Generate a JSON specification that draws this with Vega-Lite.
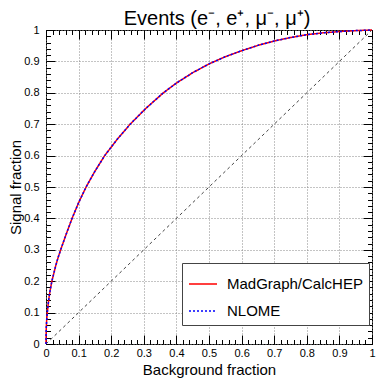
{
  "$schema": "https://vega.github.io/schema/vega-lite/v6.json",
  "autosize": "none",
  "width": 326,
  "height": 314,
  "padding": {"left": 46, "top": 30, "right": 10, "bottom": 38},
  "background": "white",
  "title": {"text": "Events (e⁻, e⁺, μ⁻, μ⁺)", "fontSize": 20, "fontWeight": "normal", "font": "Liberation Sans", "color": "black", "anchor": "middle", "offset": -5, "dx": 8},
  "config": {
    "font": "Liberation Sans",
    "view": {"stroke": "black", "strokeWidth": 1},
    "axis": {"labelColor": "black", "titleColor": "black", "tickColor": "black", "labelFontSize": 11, "titleFontSize": 15, "titleFontWeight": "normal", "domain": false, "labelFont": "Liberation Sans", "titleFont": "Liberation Sans"}
  },
  "datasets": {
    "diag": [{"bg": 0, "sig": 0}, {"bg": 1, "sig": 1}],
    "roc": [
      {"series": "MadGraph/CalcHEP", "bg": 0, "sig": 0},
      {"series": "MadGraph/CalcHEP", "bg": 0.0002, "sig": 0.02},
      {"series": "MadGraph/CalcHEP", "bg": 0.0008, "sig": 0.05},
      {"series": "MadGraph/CalcHEP", "bg": 0.002, "sig": 0.075},
      {"series": "MadGraph/CalcHEP", "bg": 0.004, "sig": 0.1},
      {"series": "MadGraph/CalcHEP", "bg": 0.0065, "sig": 0.125},
      {"series": "MadGraph/CalcHEP", "bg": 0.0095, "sig": 0.15},
      {"series": "MadGraph/CalcHEP", "bg": 0.0135, "sig": 0.175},
      {"series": "MadGraph/CalcHEP", "bg": 0.018, "sig": 0.2},
      {"series": "MadGraph/CalcHEP", "bg": 0.024, "sig": 0.225},
      {"series": "MadGraph/CalcHEP", "bg": 0.03, "sig": 0.25},
      {"series": "MadGraph/CalcHEP", "bg": 0.037, "sig": 0.275},
      {"series": "MadGraph/CalcHEP", "bg": 0.045, "sig": 0.3},
      {"series": "MadGraph/CalcHEP", "bg": 0.062, "sig": 0.35},
      {"series": "MadGraph/CalcHEP", "bg": 0.08, "sig": 0.4},
      {"series": "MadGraph/CalcHEP", "bg": 0.1, "sig": 0.45},
      {"series": "MadGraph/CalcHEP", "bg": 0.123, "sig": 0.5},
      {"series": "MadGraph/CalcHEP", "bg": 0.15, "sig": 0.55},
      {"series": "MadGraph/CalcHEP", "bg": 0.18, "sig": 0.6},
      {"series": "MadGraph/CalcHEP", "bg": 0.217, "sig": 0.65},
      {"series": "MadGraph/CalcHEP", "bg": 0.258, "sig": 0.7},
      {"series": "MadGraph/CalcHEP", "bg": 0.306, "sig": 0.75},
      {"series": "MadGraph/CalcHEP", "bg": 0.36, "sig": 0.8},
      {"series": "MadGraph/CalcHEP", "bg": 0.4, "sig": 0.831},
      {"series": "MadGraph/CalcHEP", "bg": 0.45, "sig": 0.864},
      {"series": "MadGraph/CalcHEP", "bg": 0.5, "sig": 0.892},
      {"series": "MadGraph/CalcHEP", "bg": 0.55, "sig": 0.915},
      {"series": "MadGraph/CalcHEP", "bg": 0.6, "sig": 0.934},
      {"series": "MadGraph/CalcHEP", "bg": 0.65, "sig": 0.951},
      {"series": "MadGraph/CalcHEP", "bg": 0.7, "sig": 0.965},
      {"series": "MadGraph/CalcHEP", "bg": 0.75, "sig": 0.976},
      {"series": "MadGraph/CalcHEP", "bg": 0.8, "sig": 0.985},
      {"series": "MadGraph/CalcHEP", "bg": 0.85, "sig": 0.991},
      {"series": "MadGraph/CalcHEP", "bg": 0.9, "sig": 0.995},
      {"series": "MadGraph/CalcHEP", "bg": 0.95, "sig": 0.998},
      {"series": "MadGraph/CalcHEP", "bg": 1, "sig": 1},
      {"series": "NLOME", "bg": 0, "sig": 0},
      {"series": "NLOME", "bg": 0.0002, "sig": 0.02},
      {"series": "NLOME", "bg": 0.0008, "sig": 0.05},
      {"series": "NLOME", "bg": 0.002, "sig": 0.075},
      {"series": "NLOME", "bg": 0.004, "sig": 0.1},
      {"series": "NLOME", "bg": 0.0065, "sig": 0.125},
      {"series": "NLOME", "bg": 0.0095, "sig": 0.15},
      {"series": "NLOME", "bg": 0.0135, "sig": 0.175},
      {"series": "NLOME", "bg": 0.018, "sig": 0.2},
      {"series": "NLOME", "bg": 0.024, "sig": 0.225},
      {"series": "NLOME", "bg": 0.03, "sig": 0.25},
      {"series": "NLOME", "bg": 0.037, "sig": 0.275},
      {"series": "NLOME", "bg": 0.045, "sig": 0.3},
      {"series": "NLOME", "bg": 0.062, "sig": 0.35},
      {"series": "NLOME", "bg": 0.08, "sig": 0.4},
      {"series": "NLOME", "bg": 0.1, "sig": 0.45},
      {"series": "NLOME", "bg": 0.123, "sig": 0.5},
      {"series": "NLOME", "bg": 0.15, "sig": 0.55},
      {"series": "NLOME", "bg": 0.18, "sig": 0.6},
      {"series": "NLOME", "bg": 0.217, "sig": 0.65},
      {"series": "NLOME", "bg": 0.258, "sig": 0.7},
      {"series": "NLOME", "bg": 0.306, "sig": 0.75},
      {"series": "NLOME", "bg": 0.36, "sig": 0.8},
      {"series": "NLOME", "bg": 0.4, "sig": 0.831},
      {"series": "NLOME", "bg": 0.45, "sig": 0.864},
      {"series": "NLOME", "bg": 0.5, "sig": 0.892},
      {"series": "NLOME", "bg": 0.55, "sig": 0.915},
      {"series": "NLOME", "bg": 0.6, "sig": 0.934},
      {"series": "NLOME", "bg": 0.65, "sig": 0.951},
      {"series": "NLOME", "bg": 0.7, "sig": 0.965},
      {"series": "NLOME", "bg": 0.75, "sig": 0.976},
      {"series": "NLOME", "bg": 0.8, "sig": 0.985},
      {"series": "NLOME", "bg": 0.85, "sig": 0.991},
      {"series": "NLOME", "bg": 0.9, "sig": 0.995},
      {"series": "NLOME", "bg": 0.95, "sig": 0.998},
      {"series": "NLOME", "bg": 1, "sig": 1}
    ]
  },
  "resolve": {"axis": {"x": "independent", "y": "independent"}},
  "layer": [
    {
      "data": {"name": "diag"},
      "mark": {"type": "line", "color": "#444", "strokeDash": [3, 3], "strokeWidth": 1},
      "encoding": {
        "x": {"field": "bg", "type": "quantitative", "scale": {"domain": [0, 1], "nice": false},
          "axis": {"orient": "bottom", "title": "Background fraction", "tickCount": 10, "format": "~g", "tickSize": -9, "labelPadding": 12, "grid": true, "gridDash": [1, 2], "gridColor": "#888", "titlePadding": 4, "labelFlush": false}},
        "y": {"field": "sig", "type": "quantitative", "scale": {"domain": [0, 1], "nice": false},
          "axis": {"orient": "left", "title": "Signal fraction", "tickCount": 10, "format": "~g", "tickSize": -9, "labelPadding": 16, "grid": true, "gridDash": [1, 2], "gridColor": "#888", "titlePadding": 0, "labelFlush": false}}
      }
    },
    {
      "data": {"name": "roc"},
      "transform": [{"filter": "datum.series === 'MadGraph/CalcHEP'"}],
      "mark": {"type": "line", "strokeWidth": 1.5},
      "encoding": {
        "x": {"field": "bg", "type": "quantitative", "axis": {"orient": "bottom", "title": null, "tickCount": 50, "tickSize": -4.5, "labels": false, "grid": false}},
        "y": {"field": "sig", "type": "quantitative", "axis": {"orient": "left", "title": null, "tickCount": 50, "tickSize": -4.5, "labels": false, "grid": false}},
        "color": {"field": "series", "type": "nominal", "scale": {"domain": ["MadGraph/CalcHEP", "NLOME"], "range": ["#ff0000", "#0000ff"]},
          "legend": {"orient": "none", "legendX": 136, "legendY": 233, "title": null, "symbolType": "stroke", "symbolSize": 784, "symbolStrokeWidth": 1.5, "labelFontSize": 15, "labelColor": "black", "fillColor": "white", "strokeColor": "#444", "padding": 6, "rowPadding": 4, "labelOffset": 9}},
        "strokeDash": {"field": "series", "type": "nominal", "scale": {"domain": ["MadGraph/CalcHEP", "NLOME"], "range": [[1, 0], [2, 2]]},
          "legend": {"orient": "none", "legendX": 136, "legendY": 233, "title": null, "symbolType": "stroke", "symbolSize": 784, "symbolStrokeWidth": 1.5, "labelFontSize": 15, "labelColor": "black", "fillColor": "white", "strokeColor": "#444", "padding": 6, "rowPadding": 4, "labelOffset": 9}}
      }
    },
    {
      "data": {"name": "roc"},
      "transform": [{"filter": "datum.series === 'NLOME'"}],
      "mark": {"type": "line", "strokeWidth": 1.5},
      "encoding": {
        "x": {"field": "bg", "type": "quantitative", "axis": {"orient": "top", "title": null, "tickCount": 10, "tickSize": -9, "labels": false, "grid": false}},
        "y": {"field": "sig", "type": "quantitative", "axis": {"orient": "right", "title": null, "tickCount": 10, "tickSize": -9, "labels": false, "grid": false}},
        "color": {"field": "series", "type": "nominal"},
        "strokeDash": {"field": "series", "type": "nominal"}
      }
    },
    {
      "data": {"name": "diag"},
      "transform": [{"filter": "datum.bg > 5"}],
      "mark": {"type": "line"},
      "encoding": {
        "x": {"field": "bg", "type": "quantitative", "axis": {"orient": "top", "title": null, "tickCount": 50, "tickSize": -4.5, "labels": false, "grid": false}},
        "y": {"field": "sig", "type": "quantitative", "axis": {"orient": "right", "title": null, "tickCount": 50, "tickSize": -4.5, "labels": false, "grid": false}}
      }
    }
  ]
}
